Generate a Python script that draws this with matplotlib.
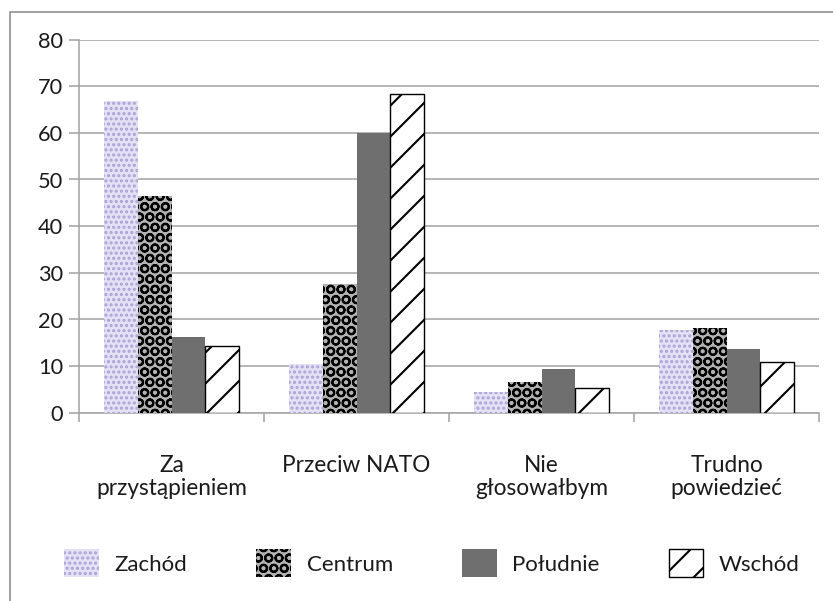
import matplotlib
matplotlib.use("Agg")
import matplotlib.pyplot as plt
import matplotlib.patches as mpatches
import numpy as np

categories = ["Za\nprzystąpieniem", "Przeciw NATO", "Nie\ngłosowałbym", "Trudno\npowiedzieć"]
series_names = ["Zachód", "Centrum", "Południe", "Wschód"]
zachod = [66.9, 10.4, 4.5, 17.7]
centrum = [46.5, 27.5, 6.6, 18.1]
poludnie = [16.1, 59.9, 9.3, 13.6]
wschod = [14.3, 68.4, 5.2, 10.9]
y_ticks = [0, 10, 20, 30, 40, 50, 60, 70, 80]

DPI = 186
W, H = 833, 601
px = 72.0 / DPI  # points per pixel
plt.rcParams['font.family'] = ['Lato', 'DejaVu Sans']
plt.rcParams['hatch.linewidth'] = 2.1 * px

fig = plt.figure(figsize=((W + 0.2) / DPI, (H + 0.2) / DPI), dpi=DPI)

ax = fig.add_axes([79 / W, (H - 412.6) / H, 740 / W, (412.6 - 39.8) / H])

x = np.arange(len(categories))
bw = 0.182
styles = [
    dict(facecolor="#e4e1f4", edgecolor="#a9a2d8", hatch="......", linewidth=0),
    dict(facecolor="#b3b3b3", edgecolor="#000000", hatch="OOO", linewidth=0),
    dict(facecolor="#6f6f6f", edgecolor="#6f6f6f", linewidth=0),
    dict(facecolor="#ffffff", edgecolor="#000000", hatch="//", linewidth=1.4 * px),
]
data = [zachod, centrum, poludnie, wschod]
handles = []
for i, (vals, st, name) in enumerate(zip(data, styles, series_names)):
    bars = ax.bar(x + (i - 1.5) * bw, vals, width=bw, label=name, zorder=3, **st)
    handles.append(bars)

ax.set_xlim(-0.5, 3.5)
ax.set_ylim(0, 80)
ax.set_yticks(y_ticks)
ax.yaxis.grid(True, color="#a6a6a6", linewidth=1.6 * px, zorder=0)
ax.set_axisbelow(True)
for s in ["top", "right"]:
    ax.spines[s].set_visible(False)
for s in ["left", "bottom"]:
    ax.spines[s].set_color("#a6a6a6")
    ax.spines[s].set_linewidth(1.6 * px)

ax.tick_params(axis="y", which="major", length=10 * px, width=1.6 * px, color="#a6a6a6",
               pad=6 * px, labelsize=21.8 * px, labelcolor="#1a1a1a")
ax.set_xticks([-0.5, 0.5, 1.5, 2.5, 3.5])
ax.set_xticklabels([])
ax.tick_params(axis="x", which="major", length=9 * px, width=1.6 * px, color="#a6a6a6")
ax.set_xticks(x, minor=True)
ax.set_xticklabels(categories, minor=True)
ax.tick_params(axis="x", which="minor", length=0, pad=42 * px, labelsize=22.6 * px,
               labelcolor="#1a1a1a")
for lab in ax.get_xticklabels(minor=True):
    lab.set_linespacing(1.14)

leg = fig.legend(handles=handles, labels=series_names, loc="center",
                 bbox_to_anchor=(432 / W, (H - 563) / H), ncol=4, frameon=False,
                 fontsize=22.3 * px, handlelength=1.55, handleheight=1.55,
                 handletextpad=0.7, columnspacing=3.1, labelcolor="#1a1a1a")

# outer chart border (cropped on right and bottom)
border = mpatches.Rectangle((10 / W, -0.1), 1.2, (H - 12) / H + 0.1, transform=fig.transFigure,
                            fill=False, edgecolor="#8c8c8c", linewidth=1.6 * px)
fig.patches.append(border)

fig.savefig("out.png", dpi=DPI)
